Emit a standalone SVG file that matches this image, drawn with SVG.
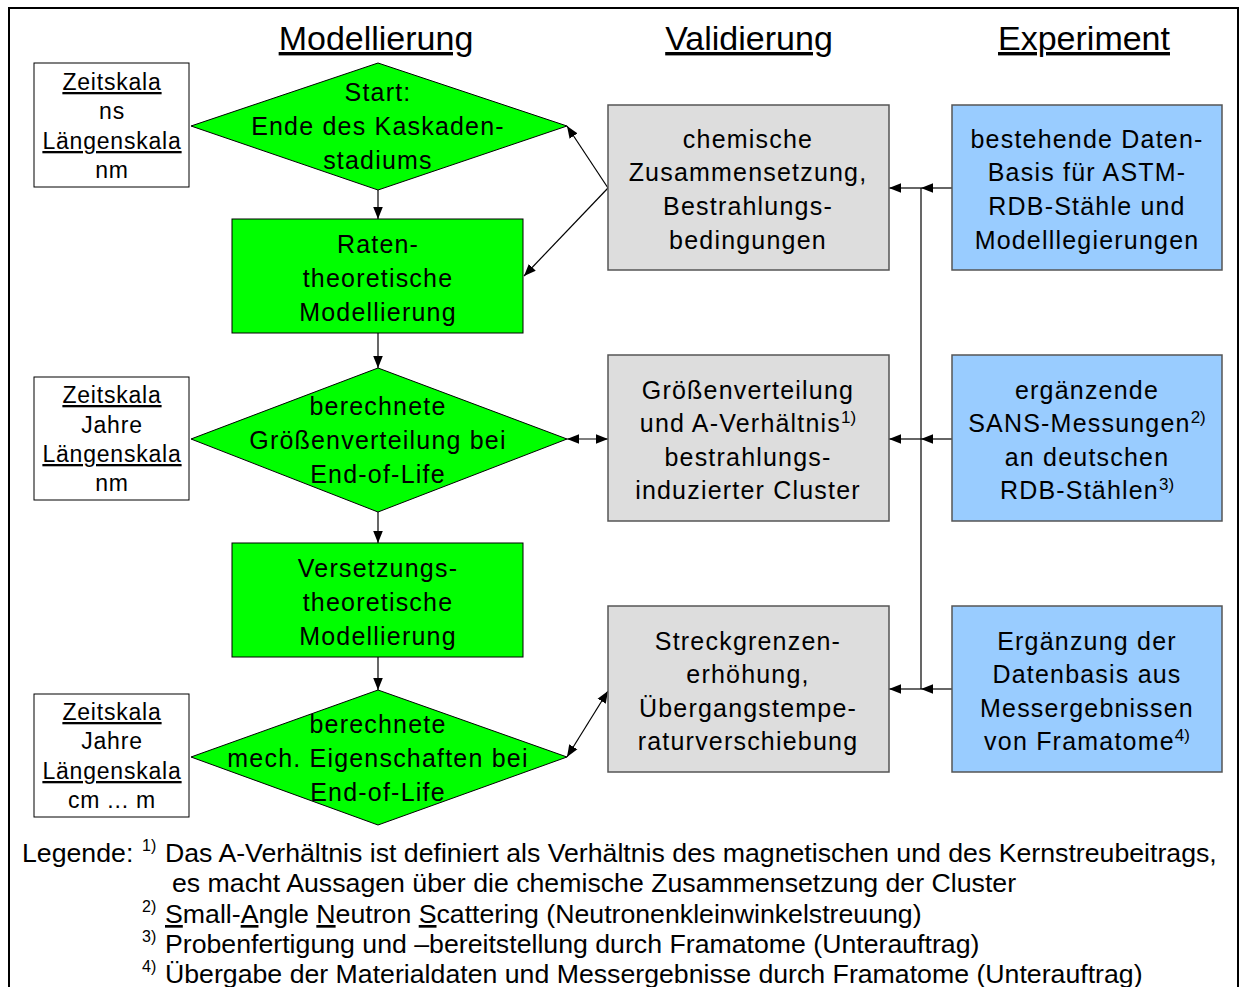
<svg xmlns="http://www.w3.org/2000/svg" width="1244" height="987" viewBox="0 0 1244 987">
<style>
text{font-family:"Liberation Sans",Arial,sans-serif;fill:#000}
.hdr{font-size:34px;text-anchor:middle;text-decoration:underline}
.sc{font-size:23px;text-anchor:middle;letter-spacing:0.8px}
.u{text-decoration:underline}
.bx{font-size:25px;text-anchor:middle;letter-spacing:1.2px}
.sup{font-size:17px;letter-spacing:0}
.lg{font-size:26.7px}
.lsup{font-size:16px}
.scale{fill:#fff;stroke:#000;stroke-width:1}
.green{fill:#00ff00;stroke:#000;stroke-width:1}
.gray{fill:#dddddd;stroke:#555;stroke-width:1.5}
.blue{fill:#99ccff;stroke:#555;stroke-width:1.5}
.c{stroke:#000;stroke-width:1.2;fill:none}
</style>
<defs>
<marker id="ah" viewBox="0 0 10 8" refX="10" refY="4" markerWidth="12" markerHeight="10" markerUnits="userSpaceOnUse" orient="auto-start-reverse">
<path d="M0,0 L10,4 L0,8 z" fill="#000"/>
</marker>
</defs>
<rect x="9" y="8" width="1229" height="1000" fill="#fff" stroke="#000" stroke-width="2"/>

<g id="headers">
<text class="hdr" x="376" y="50">Modellierung</text>
<text class="hdr" x="749" y="50">Validierung</text>
<text class="hdr" x="1084" y="50">Experiment</text>
</g>

<g id="scale1">
<rect class="scale" x="34" y="63" width="155" height="124"/>
<text class="sc" x="112" y="90"><tspan class="u">Zeitskala</tspan></text>
<text class="sc" x="112" y="119">ns</text>
<text class="sc" x="112" y="149"><tspan class="u">Längenskala</tspan></text>
<text class="sc" x="112" y="178">nm</text>
</g>
<g id="scale2">
<rect class="scale" x="34" y="377" width="155" height="123"/>
<text class="sc" x="112" y="403"><tspan class="u">Zeitskala</tspan></text>
<text class="sc" x="112" y="433">Jahre</text>
<text class="sc" x="112" y="462"><tspan class="u">Längenskala</tspan></text>
<text class="sc" x="112" y="491">nm</text>
</g>
<g id="scale3">
<rect class="scale" x="34" y="694" width="155" height="123"/>
<text class="sc" x="112" y="720"><tspan class="u">Zeitskala</tspan></text>
<text class="sc" x="112" y="749">Jahre</text>
<text class="sc" x="112" y="779"><tspan class="u">Längenskala</tspan></text>
<text class="sc" x="112" y="808">cm ... m</text>
</g>

<g id="connectors">
<line class="c" x1="378" y1="190" x2="378" y2="219" marker-end="url(#ah)"/>
<line class="c" x1="378" y1="333" x2="378" y2="368" marker-end="url(#ah)"/>
<line class="c" x1="378" y1="512" x2="378" y2="543" marker-end="url(#ah)"/>
<line class="c" x1="378" y1="657" x2="378" y2="690" marker-end="url(#ah)"/>
<line class="c" x1="608" y1="188" x2="567" y2="126" marker-end="url(#ah)"/>
<line class="c" x1="608" y1="188" x2="524" y2="276" marker-end="url(#ah)"/>
<line class="c" x1="567" y1="439" x2="608" y2="439" marker-start="url(#ah)" marker-end="url(#ah)"/>
<line class="c" x1="567" y1="757" x2="608" y2="691" marker-start="url(#ah)" marker-end="url(#ah)"/>
<line class="c" x1="921" y1="188" x2="921" y2="689"/>
<line class="c" x1="952" y1="188" x2="921" y2="188" marker-end="url(#ah)"/>
<line class="c" x1="921" y1="188" x2="889" y2="188" marker-end="url(#ah)"/>
<line class="c" x1="952" y1="439" x2="921" y2="439" marker-end="url(#ah)"/>
<line class="c" x1="921" y1="439" x2="889" y2="439" marker-end="url(#ah)"/>
<line class="c" x1="952" y1="689" x2="921" y2="689" marker-end="url(#ah)"/>
<line class="c" x1="921" y1="689" x2="889" y2="689" marker-end="url(#ah)"/>
</g>

<g id="diamond1">
<polygon class="green" points="378,63 567,126 378,190 191,126"/>
<text class="bx" x="378" y="101">Start:</text>
<text class="bx" x="378" y="135">Ende des Kaskaden-</text>
<text class="bx" x="378" y="169">stadiums</text>
</g>
<g id="rate">
<rect class="green" x="232" y="219" width="291" height="114"/>
<text class="bx" x="378" y="253">Raten-</text>
<text class="bx" x="378" y="287">theoretische</text>
<text class="bx" x="378" y="321">Modellierung</text>
</g>
<g id="diamond2">
<polygon class="green" points="378,368 567,439 378,512 191,439"/>
<text class="bx" x="378" y="415">berechnete</text>
<text class="bx" x="378" y="449">Größenverteilung bei</text>
<text class="bx" x="378" y="483">End-of-Life</text>
</g>
<g id="versetzung">
<rect class="green" x="232" y="543" width="291" height="114"/>
<text class="bx" x="378" y="577">Versetzungs-</text>
<text class="bx" x="378" y="611">theoretische</text>
<text class="bx" x="378" y="645">Modellierung</text>
</g>
<g id="diamond3">
<polygon class="green" points="378,690 567,757 378,825 191,757"/>
<text class="bx" x="378" y="733">berechnete</text>
<text class="bx" x="378" y="767">mech. Eigenschaften bei</text>
<text class="bx" x="378" y="801">End-of-Life</text>
</g>

<g id="val1">
<rect class="gray" x="608" y="105" width="281" height="165"/>
<text class="bx" x="748" y="148">chemische</text>
<text class="bx" x="748" y="181">Zusammensetzung,</text>
<text class="bx" x="748" y="215">Bestrahlungs-</text>
<text class="bx" x="748" y="249">bedingungen</text>
</g>
<g id="val2">
<rect class="gray" x="608" y="355" width="281" height="166"/>
<text class="bx" x="748" y="399">Größenverteilung</text>
<text class="bx" x="748" y="432">und A-Verhältnis<tspan class="sup" dy="-9">1)</tspan></text>
<text class="bx" x="748" y="466">bestrahlungs-</text>
<text class="bx" x="748" y="499">induzierter Cluster</text>
</g>
<g id="val3">
<rect class="gray" x="608" y="606" width="281" height="166"/>
<text class="bx" x="748" y="650">Streckgrenzen-</text>
<text class="bx" x="748" y="683">erhöhung,</text>
<text class="bx" x="748" y="717">Übergangstempe-</text>
<text class="bx" x="748" y="750">raturverschiebung</text>
</g>

<g id="exp1">
<rect class="blue" x="952" y="105" width="270" height="165"/>
<text class="bx" x="1087" y="148">bestehende Daten-</text>
<text class="bx" x="1087" y="181">Basis für ASTM-</text>
<text class="bx" x="1087" y="215">RDB-Stähle und</text>
<text class="bx" x="1087" y="249">Modelllegierungen</text>
</g>
<g id="exp2">
<rect class="blue" x="952" y="355" width="270" height="166"/>
<text class="bx" x="1087" y="399">ergänzende</text>
<text class="bx" x="1087" y="432">SANS-Messungen<tspan class="sup" dy="-9">2)</tspan></text>
<text class="bx" x="1087" y="466">an deutschen</text>
<text class="bx" x="1087" y="499">RDB-Stählen<tspan class="sup" dy="-9">3)</tspan></text>
</g>
<g id="exp3">
<rect class="blue" x="952" y="606" width="270" height="166"/>
<text class="bx" x="1087" y="650">Ergänzung der</text>
<text class="bx" x="1087" y="683">Datenbasis aus</text>
<text class="bx" x="1087" y="717">Messergebnissen</text>
<text class="bx" x="1087" y="750">von Framatome<tspan class="sup" dy="-9">4)</tspan></text>
</g>

<g id="legend">
<text class="lg" x="22" y="862">Legende:</text>
<text class="lsup" x="142" y="851">1)</text>
<text class="lg" x="165" y="862">Das A-Verhältnis ist definiert als Verhältnis des magnetischen und des Kernstreubeitrags,</text>
<text class="lg" x="172" y="892">es macht Aussagen über die chemische Zusammensetzung der Cluster</text>
<text class="lsup" x="142" y="912">2)</text>
<text class="lg" x="165" y="923"><tspan class="u">S</tspan>mall-<tspan class="u">A</tspan>ngle <tspan class="u">N</tspan>eutron <tspan class="u">S</tspan>cattering (Neutronenkleinwinkelstreuung)</text>
<text class="lsup" x="142" y="942">3)</text>
<text class="lg" x="165" y="953">Probenfertigung und –bereitstellung durch Framatome (Unterauftrag)</text>
<text class="lsup" x="142" y="972">4)</text>
<text class="lg" x="165" y="983">Übergabe der Materialdaten und Messergebnisse durch Framatome (Unterauftrag)</text>
</g>
</svg>
